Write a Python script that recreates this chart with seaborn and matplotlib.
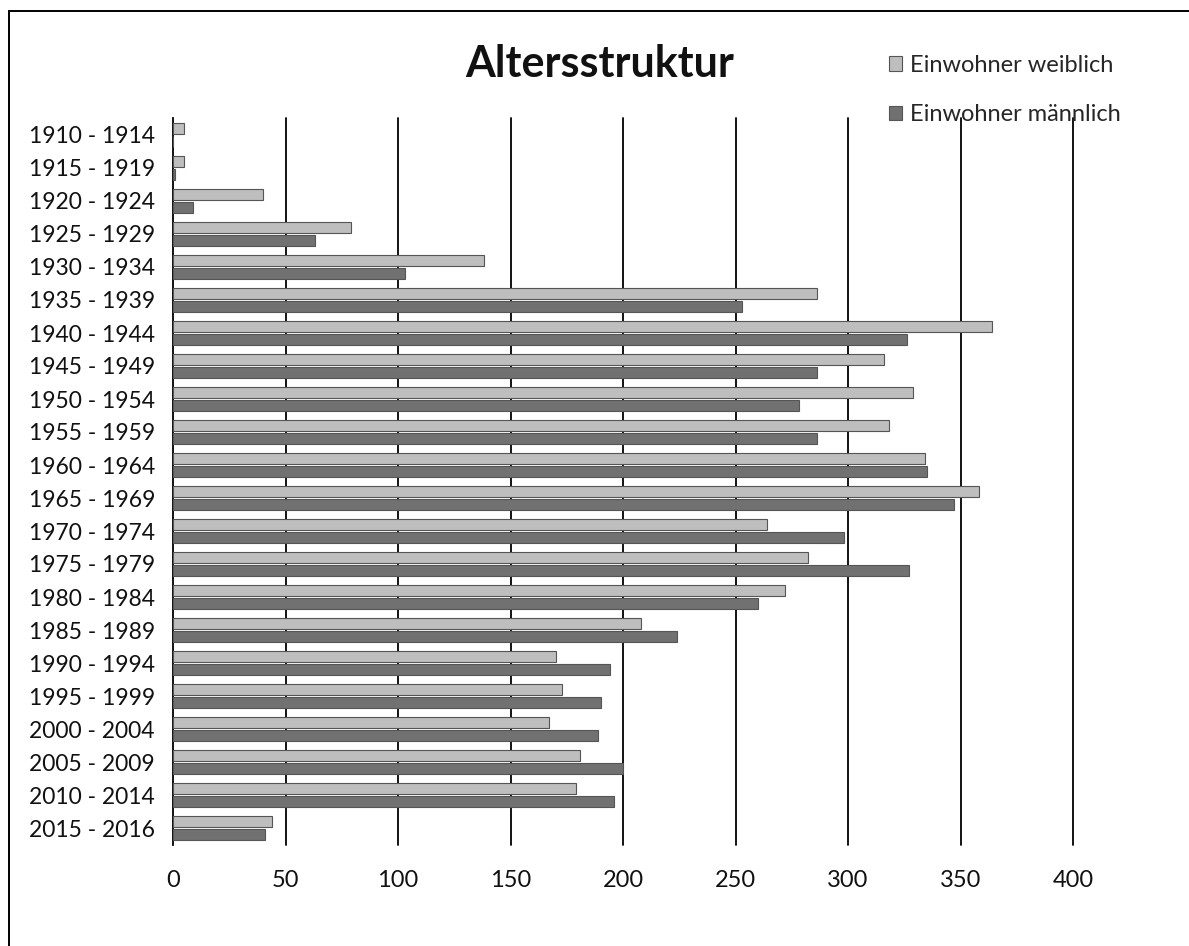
import matplotlib
matplotlib.use("Agg")
import matplotlib.pyplot as plt
from matplotlib.lines import Line2D
import seaborn as sns
import pandas as pd

categories = ["1910 - 1914", "1915 - 1919", "1920 - 1924", "1925 - 1929", "1930 - 1934",
              "1935 - 1939", "1940 - 1944", "1945 - 1949", "1950 - 1954", "1955 - 1959",
              "1960 - 1964", "1965 - 1969", "1970 - 1974", "1975 - 1979", "1980 - 1984",
              "1985 - 1989", "1990 - 1994", "1995 - 1999", "2000 - 2004", "2005 - 2009",
              "2010 - 2014", "2015 - 2016"]
weiblich = [5, 5, 40, 79, 138, 286, 364, 316, 329, 318, 334, 358, 264, 282, 272,
            208, 170, 173, 167, 181, 179, 44]
maennlich = [0, 1, 9, 63, 103, 253, 326, 286, 278, 286, 335, 347, 298, 327, 260,
             224, 194, 190, 189, 200, 196, 41]
series_names = ["Einwohner weiblich", "Einwohner männlich"]
x_ticks = [0, 50, 100, 150, 200, 250, 300, 350, 400]
title = "Altersstruktur"

df = pd.DataFrame({
    "Jahrgang": categories * 2,
    "Serie": [series_names[0]] * len(categories) + [series_names[1]] * len(categories),
    "Anzahl": weiblich + maennlich,
})

sns.set_theme(style="white")
plt.rcParams["font.family"] = ["Lato", "DejaVu Sans"]

W, H = 1189, 946
fig = plt.figure(figsize=(W / 100, H / 100), dpi=100)
fig.patch.set_facecolor("white")
ax = fig.add_axes([173 / W, 1 - 844.5 / H, (1073 - 173) / W, (844.5 - 118.5) / H])

palette = {series_names[0]: "#bebebe", series_names[1]: "#717171"}
sns.barplot(data=df, y="Jahrgang", x="Anzahl", hue="Serie", order=categories,
            hue_order=series_names, palette=palette, orient="h",
            width=0.78, gap=0.15, edgecolor="#555555", linewidth=0.8,
            saturation=1, ax=ax, zorder=3)

ax.set_xlim(0, 400)
ax.set_ylim(len(categories) - 0.5, -0.5)
ax.set_xticks(x_ticks)
ax.set_xticklabels([str(t) for t in x_ticks])
for t in x_ticks[1:]:
    ax.axvline(t, color="black", linewidth=1.3, zorder=1, clip_on=False)

for side in ["top", "right", "bottom"]:
    ax.spines[side].set_visible(False)
ax.spines["left"].set_color("black")
ax.spines["left"].set_linewidth(1.3)
ax.set_xlabel("")
ax.set_ylabel("")
ax.tick_params(axis="y", length=0, pad=13, labelsize=16.5, colors="#111111")
ax.tick_params(axis="x", length=0, pad=18.5, labelsize=17, colors="#111111")
ax.grid(False)

fig.text(600 / W, 1 - 64 / H, title, ha="center", va="center",
         fontsize=31, fontweight="bold", color="#111111")

sns.move_legend(ax, loc="upper left", bbox_to_anchor=(877 / W, 1 - 43 / H),
                bbox_transform=fig.transFigure, frameon=False, title=None,
                fontsize=17, handlelength=0.55, handleheight=0.55,
                handletextpad=0.35, labelspacing=1.2, borderpad=0)

# chart border (left and top edges visible)
fig.add_artist(Line2D([9 / W, 9 / W], [0, 1 - 11 / H], color="black",
                      linewidth=1.4, transform=fig.transFigure))
fig.add_artist(Line2D([9 / W, 1], [1 - 11 / H, 1 - 11 / H], color="black",
                      linewidth=1.4, transform=fig.transFigure))

fig.savefig("out.png", dpi=100, facecolor="white")
